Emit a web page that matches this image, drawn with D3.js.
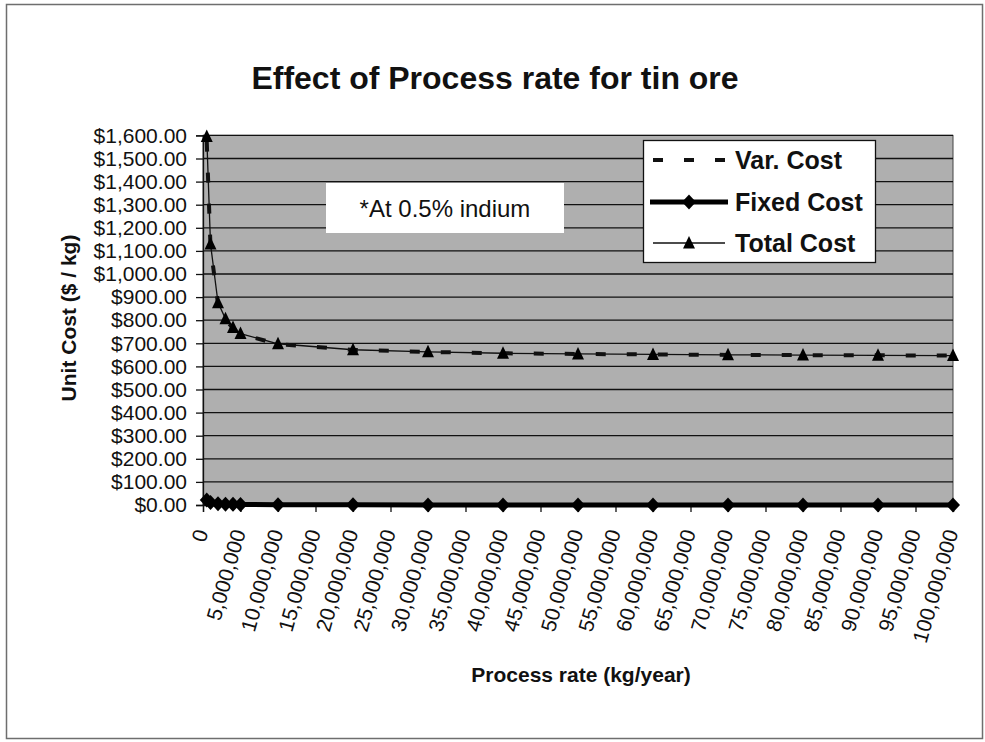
<!DOCTYPE html>
<html>
<head>
<meta charset="utf-8">
<script src="https://cdn.jsdelivr.net/npm/d3@7"></script>
<style>
  html, body { margin: 0; padding: 0; background: #ffffff; }
  svg { display: block; font-family: "Liberation Sans", Arial, sans-serif; }
</style>
</head>
<body>
<svg id="chart" width="985" height="742"></svg>
<script>
// Process rate (kg/year) for each costed scenario
const processRate = [500000, 1000000, 2000000, 3000000, 4000000, 5000000,
  10000000, 20000000, 30000000, 40000000, 50000000, 60000000, 70000000,
  80000000, 90000000, 100000000];
// Unit costs ($ / kg)
const totalCost = [1595, 1130, 876, 806, 768, 742, 698, 672, 663, 657, 654, 652, 650, 649, 648, 647];
const fixedCost = [22, 11, 5.5, 3.7, 2.8, 2.2, 1.1, 0.55, 0.37, 0.28, 0.22, 0.18, 0.16, 0.14, 0.12, 0.11];
const varCost = [1573, 1119, 870.5, 802.3, 765.2, 739.8, 696.9, 671.45, 662.63, 656.72, 653.78, 651.82, 649.84, 648.86, 647.88, 646.89];
// Axis ticks
const xTicks = [0, 5000000, 10000000, 15000000, 20000000, 25000000, 30000000, 35000000,
  40000000, 45000000, 50000000, 55000000, 60000000, 65000000, 70000000, 75000000,
  80000000, 85000000, 90000000, 95000000, 100000000];
const yTicks = [0, 100, 200, 300, 400, 500, 600, 700, 800, 900, 1000, 1100, 1200,
  1300, 1400, 1500, 1600];
const seriesNames = ["Var. Cost", "Fixed Cost", "Total Cost"];
const noteText = "*At 0.5% indium";

const svg = d3.select("#chart");
const plot = { left: 203, right: 953, top: 135.4, bottom: 505 };

const x = d3.scaleLinear().domain([0, 100000000]).range([plot.left, plot.right]);
const y = d3.scaleLinear().domain([0, 1600]).range([plot.bottom, plot.top]);

// Chart frame
svg.append("rect").attr("x", 6.5).attr("y", 4.5).attr("width", 976).attr("height", 734)
  .attr("fill", "#ffffff").attr("stroke", "#6e6e6e").attr("stroke-width", 1.5);

// Title
svg.append("text").attr("x", 495).attr("y", 89).attr("text-anchor", "middle")
  .attr("font-size", 32).attr("font-weight", "bold").attr("fill", "#111")
  .text("Effect of Process rate for tin ore");

// Plot background
svg.append("rect").attr("x", plot.left).attr("y", plot.top)
  .attr("width", plot.right - plot.left).attr("height", plot.bottom - plot.top)
  .attr("fill", "#afafaf").attr("stroke", "#444").attr("stroke-width", 1);

// Horizontal gridlines
svg.append("g").selectAll("line").data(yTicks.slice(1)).join("line")
  .attr("x1", plot.left).attr("x2", plot.right)
  .attr("y1", d => y(d)).attr("y2", d => y(d))
  .attr("stroke", "#111").attr("stroke-width", 1.3);

// Y axis
const yAxis = d3.axisLeft(y).tickValues(yTicks).tickSize(7).tickPadding(9)
  .tickFormat(d => "$" + d3.format(",.2f")(d));
const gy = svg.append("g").attr("transform", `translate(${plot.left},0)`).call(yAxis);
gy.select(".domain").attr("stroke", "#111").attr("stroke-width", 1.3);
gy.selectAll(".tick line").attr("stroke", "#111").attr("stroke-width", 1.3);
gy.selectAll(".tick text").attr("font-size", 21).attr("fill", "#111")
  .attr("font-family", "'Liberation Sans', Arial, sans-serif");

// X axis
const xAxis = d3.axisBottom(x).tickValues(xTicks).tickSize(7).tickFormat(d3.format(","));
const gx = svg.append("g").attr("transform", `translate(0,${plot.bottom})`).call(xAxis);
gx.select(".domain").attr("stroke", "#111").attr("stroke-width", 1.3);
gx.selectAll(".tick line").attr("stroke", "#111").attr("stroke-width", 1.3);
gx.selectAll(".tick text")
  .attr("font-size", 21).attr("fill", "#111")
  .attr("font-family", "'Liberation Sans', Arial, sans-serif")
  .attr("text-anchor", "end").attr("dy", null).attr("y", null)
  .attr("transform", "translate(5,27) rotate(-74)");

// Axis titles
svg.append("text").attr("transform", "translate(76,318) rotate(-90)")
  .attr("text-anchor", "middle").attr("font-size", 21).attr("font-weight", "bold")
  .attr("fill", "#111").text("Unit Cost ($ / kg)");
svg.append("text").attr("x", 581).attr("y", 682).attr("text-anchor", "middle")
  .attr("font-size", 21).attr("font-weight", "bold").attr("fill", "#111")
  .text("Process rate (kg/year)");

// Note box
svg.append("rect").attr("x", 326).attr("y", 183).attr("width", 238).attr("height", 50)
  .attr("fill", "#ffffff");
svg.append("text").attr("x", 445).attr("y", 217).attr("text-anchor", "middle")
  .attr("font-size", 24).attr("fill", "#111").text(noteText);

// Series
const pts = arr => processRate.map((r, i) => [x(r), y(arr[i])]);
const line = d3.line();
const diamond = "M0,-7.5L7,0L0,7.5L-7,0Z";
const triangle = "M0,-7L6,5.5L-6,5.5Z";

svg.append("path").attr("d", line(pts(varCost))).attr("fill", "none")
  .attr("stroke", "#111").attr("stroke-width", 4).attr("stroke-dasharray", "10,21");

svg.append("path").attr("d", line(pts(fixedCost))).attr("fill", "none")
  .attr("stroke", "#000").attr("stroke-width", 5);
svg.append("g").selectAll("path").data(pts(fixedCost)).join("path")
  .attr("d", diamond).attr("transform", d => `translate(${d[0]},${d[1]})`).attr("fill", "#000");

svg.append("path").attr("d", line(pts(totalCost))).attr("fill", "none")
  .attr("stroke", "#111").attr("stroke-width", 1.3);
svg.append("g").selectAll("path").data(pts(totalCost)).join("path")
  .attr("d", triangle).attr("transform", d => `translate(${d[0]},${d[1]})`).attr("fill", "#000");

// Legend
const lg = svg.append("g");
lg.append("rect").attr("x", 643.5).attr("y", 140.5).attr("width", 232).attr("height", 122)
  .attr("fill", "#ffffff").attr("stroke", "#111").attr("stroke-width", 1.3);
const rowY = [160, 202, 243];
// Var. Cost sample
lg.append("line").attr("x1", 653).attr("x2", 726).attr("y1", rowY[0]).attr("y2", rowY[0])
  .attr("stroke", "#111").attr("stroke-width", 4).attr("stroke-dasharray", "10,21");
// Fixed Cost sample
lg.append("line").attr("x1", 650).attr("x2", 728).attr("y1", rowY[1]).attr("y2", rowY[1])
  .attr("stroke", "#000").attr("stroke-width", 5);
lg.append("path").attr("d", diamond).attr("transform", `translate(689,${rowY[1]})`).attr("fill", "#000");
// Total Cost sample
lg.append("line").attr("x1", 653).attr("x2", 725).attr("y1", rowY[2]).attr("y2", rowY[2])
  .attr("stroke", "#111").attr("stroke-width", 1.3);
lg.append("path").attr("d", triangle).attr("transform", `translate(689,${rowY[2]})`).attr("fill", "#000");
lg.selectAll("text").data(seriesNames).join("text")
  .attr("x", 735).attr("y", (d, i) => rowY[i] + 9)
  .attr("font-size", 25).attr("font-weight", "bold").attr("fill", "#111")
  .text(d => d);
</script>
</body>
</html>
